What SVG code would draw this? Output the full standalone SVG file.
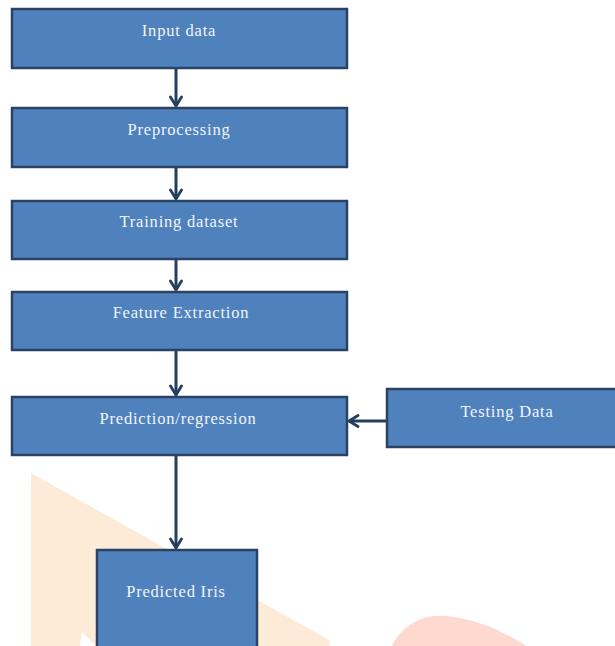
<svg xmlns="http://www.w3.org/2000/svg" width="615" height="646" viewBox="0 0 615 646">
<defs>
<style>
.box{fill:#4f81bd;stroke:#2a4365;stroke-width:2.5}
.lbl{font-family:"Liberation Serif","Times New Roman",serif;font-size:16.5px;fill:#f2f5fb;text-anchor:middle;letter-spacing:0.8px}
.conn{stroke:#243f60;stroke-width:3;fill:none}
</style>
<marker id="arr" viewBox="0 0 14 14" refX="12" refY="7" markerWidth="14" markerHeight="14" markerUnits="userSpaceOnUse" orient="auto">
<path d="M3,1.5 L12,7 L3,12.5" fill="none" stroke="#243f60" stroke-width="2.8" stroke-linecap="round" stroke-linejoin="round"/>
</marker>
</defs>
<rect width="615" height="646" fill="#ffffff"/>
<g id="watermark">
<polygon points="31,473 329,640 330,646 96,646 82,632 80,646 31,646" fill="#fdebd8"/>
<path d="M392,646 C400,628 420,614 445,616 C475,618 505,632 526,646 Z" fill="#fdd9d0"/>
</g>
<g id="connectors">
<line class="conn" x1="176" y1="68" x2="176" y2="106" marker-end="url(#arr)"/>
<line class="conn" x1="176" y1="167" x2="176" y2="199" marker-end="url(#arr)"/>
<line class="conn" x1="176" y1="259" x2="176" y2="290" marker-end="url(#arr)"/>
<line class="conn" x1="176" y1="350" x2="176" y2="395" marker-end="url(#arr)"/>
<line class="conn" x1="387" y1="421" x2="349" y2="421" marker-end="url(#arr)"/>
<line class="conn" x1="176" y1="455" x2="176" y2="548" marker-end="url(#arr)"/>
</g>
<g id="input-data"><rect class="box" x="12" y="9" width="335" height="59"/><text class="lbl" x="179" y="36">Input data</text></g>
<g id="preprocessing"><rect class="box" x="12" y="108" width="335" height="59"/><text class="lbl" x="179" y="135">Preprocessing</text></g>
<g id="training-dataset"><rect class="box" x="12" y="201" width="335" height="58"/><text class="lbl" x="179" y="227">Training dataset</text></g>
<g id="feature-extraction"><rect class="box" x="12" y="292" width="335" height="58"/><text class="lbl" x="181" y="318">Feature Extraction</text></g>
<g id="prediction-regression"><rect class="box" x="12" y="397" width="335" height="58"/><text class="lbl" x="178" y="424">Prediction/regression</text></g>
<g id="testing-data"><rect class="box" x="387" y="389" width="232" height="58"/><text class="lbl" x="507" y="417">Testing Data</text></g>
<g id="predicted-iris"><rect class="box" x="97" y="550" width="160" height="100"/><text class="lbl" x="176" y="597">Predicted Iris</text></g>
</svg>
